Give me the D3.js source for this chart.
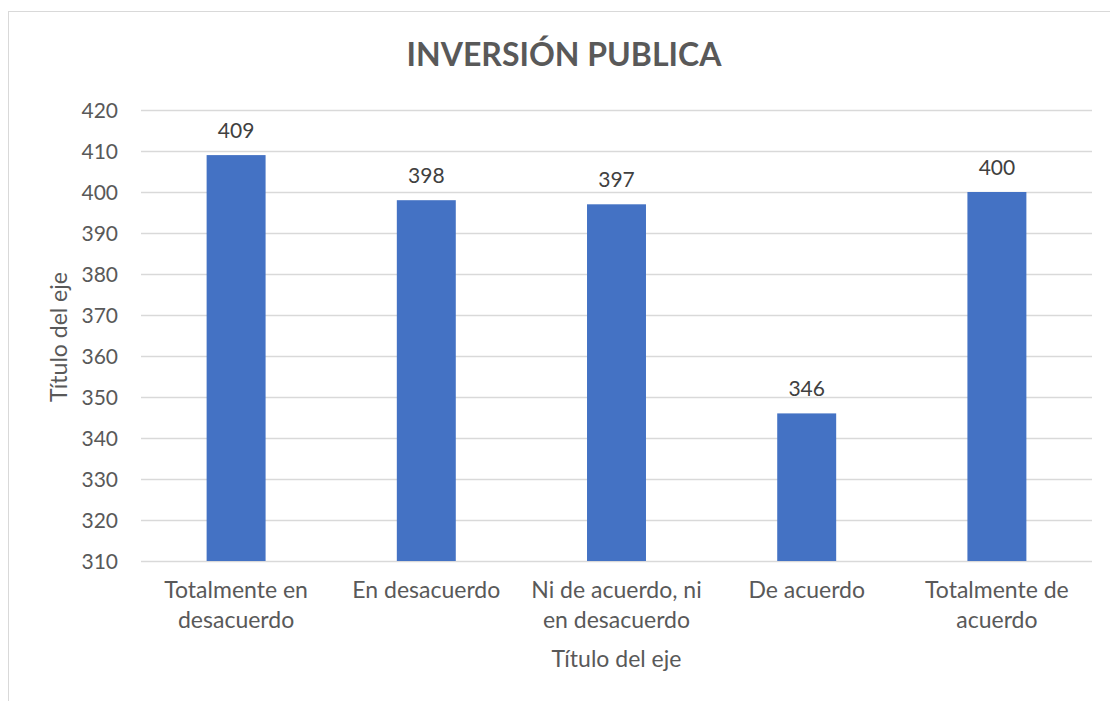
<!DOCTYPE html>
<html>
<head>
<meta charset="utf-8">
<script src="https://cdn.jsdelivr.net/npm/d3@7"></script>
<style>
  body { margin: 0; background: #fff; }
  svg { display: block; font-family: Lato, "Open Sans", sans-serif; }
</style>
</head>
<body>
<div id="chart"></div>
<script>
// chart data
let categories = ["Totalmente en\ndesacuerdo", "En desacuerdo", "Ni de acuerdo, ni\nen desacuerdo", "De acuerdo", "Totalmente de\nacuerdo"];
let values = [409, 398, 397, 346, 400];
let yTicks = [310, 320, 330, 340, 350, 360, 370, 380, 390, 400, 410, 420];
let chartTitle = "INVERSIÓN PUBLICA";
let xTitle = "Título del eje";
let yTitle = "Título del eje";

let width = 1110, height = 701;
let plot = { left: 141, right: 1092, top: 110, bottom: 561 };
let textColor = "#595959";

let svg = d3.select("#chart").append("svg")
  .attr("width", width)
  .attr("height", height);

// outer chart border
svg.append("rect")
  .attr("x", 8.5).attr("y", 11.5)
  .attr("width", 1110).attr("height", 700)
  .attr("fill", "none")
  .attr("stroke", "#d9d9d9");

let x = d3.scaleBand()
  .domain(categories)
  .range([plot.left, plot.right])
  .paddingInner(0.69)
  .paddingOuter(0.345);

let y = d3.scaleLinear()
  .domain([310, 420])
  .range([plot.bottom, plot.top]);

// gridlines
svg.append("g").selectAll("line")
  .data(yTicks)
  .enter().append("line")
  .attr("x1", plot.left).attr("x2", plot.right)
  .attr("y1", d => Math.round(y(d)) + 0.5)
  .attr("y2", d => Math.round(y(d)) + 0.5)
  .attr("stroke", "#d9d9d9")
  .attr("stroke-width", 1.5);

// y tick labels
svg.append("g").selectAll("text")
  .data(yTicks)
  .enter().append("text")
  .attr("x", 118)
  .attr("y", d => y(d))
  .attr("dy", "0.36em")
  .attr("text-anchor", "end")
  .attr("fill", textColor)
  .style("font-size", "21px")
  .text(d => d);

// bars
svg.append("g").selectAll("rect")
  .data(values)
  .enter().append("rect")
  .attr("x", (d, i) => x(categories[i]))
  .attr("width", x.bandwidth())
  .attr("y", d => y(d))
  .attr("height", d => y(310) - y(d))
  .attr("fill", "#4472c4");

// value labels
svg.append("g").selectAll("text")
  .data(values)
  .enter().append("text")
  .attr("x", (d, i) => x(categories[i]) + x.bandwidth() / 2)
  .attr("y", d => y(d) - 17)
  .attr("text-anchor", "middle")
  .attr("fill", "#404040")
  .style("font-size", "21px")
  .text(d => d);

// category labels
let catText = svg.append("g").selectAll("text")
  .data(categories)
  .enter().append("text")
  .attr("text-anchor", "middle")
  .attr("fill", textColor)
  .style("font-size", "23px");

catText.each(function(d) {
  let cx = x(d) + x.bandwidth() / 2;
  d3.select(this).selectAll("tspan")
    .data(d.split("\n"))
    .enter().append("tspan")
    .attr("x", cx)
    .attr("y", (l, i) => 598 + i * 30)
    .text(l => l);
});

// title
svg.append("text")
  .attr("x", 564)
  .attr("y", 66)
  .attr("text-anchor", "middle")
  .attr("fill", textColor)
  .style("font-size", "32px")
  .style("font-weight", "bold")
  .text(chartTitle);

// axis titles
svg.append("text")
  .attr("x", (plot.left + plot.right) / 2)
  .attr("y", 667)
  .attr("text-anchor", "middle")
  .attr("fill", textColor)
  .style("font-size", "23px")
  .text(xTitle);

svg.append("text")
  .attr("transform", "translate(67,337) rotate(-90)")
  .attr("text-anchor", "middle")
  .attr("fill", textColor)
  .style("font-size", "23px")
  .text(yTitle);
</script>
</body>
</html>
